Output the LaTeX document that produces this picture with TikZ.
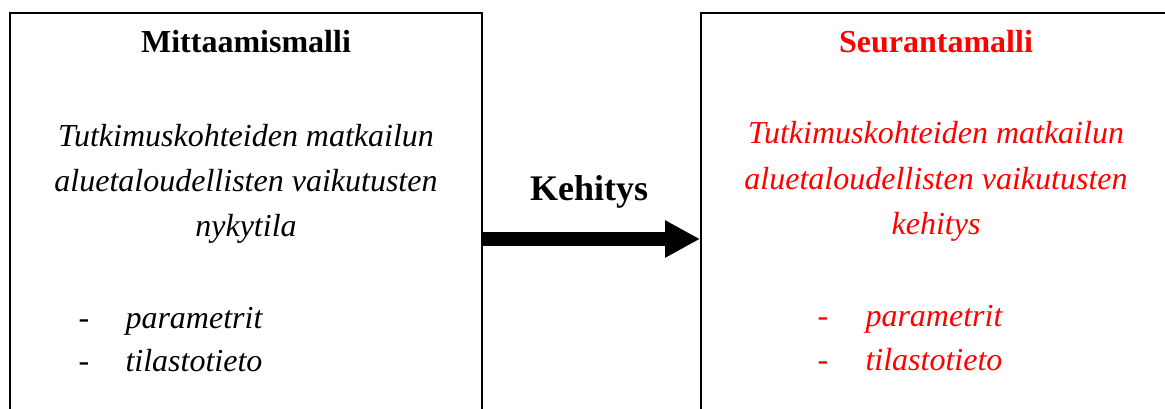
\documentclass[tikz,border=0pt]{standalone}
\usepackage{fontspec}
\setmainfont{Liberation Serif}
\usetikzlibrary{arrows.meta}

\definecolor{seured}{RGB}{255,0,0}

\tikzset{
  modelbox/.style={draw, line width=0.75pt, minimum width=177pt, minimum height=169.5pt, inner sep=0pt},
  boxtitle/.style={font=\bfseries\fontsize{12}{14}\selectfont, anchor=base, inner sep=0pt},
  boxtext/.style={font=\itshape\fontsize{12}{14}\selectfont, anchor=base, inner sep=0pt},
  dashmark/.style={font=\fontsize{12}{14}\selectfont, anchor=base, inner sep=0pt},
  itemtext/.style={font=\itshape\fontsize{12}{14}\selectfont, anchor=base west, inner sep=0pt}
}

\begin{document}
\begin{tikzpicture}[x=0.375pt, y=-0.375pt]
  \useasboundingbox (0,0) rectangle (1165,409);
  \clip (0,0) rectangle (1165,409);

  % boxes
  \node[modelbox] (lbox) at (246,239) {};
  \node[modelbox] (rbox) at (937,239) {};

  % left box
  \node[boxtitle] (ltitle) at (246,53) {Mittaamismalli};
  \node[boxtext] (l1) at (246,147) {Tutkimuskohteiden matkailun};
  \node[boxtext] (l2) at (246,192) {aluetaloudellisten vaikutusten};
  \node[boxtext] (l3) at (246,237) {nykytila};
  \node[dashmark] (ld1) at (84,328) {-};
  \node[itemtext] (li1) at (125,328) {parametrit};
  \node[dashmark] (ld2) at (84,371) {-};
  \node[itemtext] (li2) at (125,371) {tilastotieto};

  % right box
  \begin{scope}[seured]
    \node[boxtitle] (rtitle) at (936,53) {Seurantamalli};
    \node[boxtext] (r1) at (936,144) {Tutkimuskohteiden matkailun};
    \node[boxtext] (r2) at (936,190) {aluetaloudellisten vaikutusten};
    \node[boxtext] (r3) at (936,235) {kehitys};
    \node[dashmark] (rd1) at (823,326) {-};
    \node[itemtext] (ri1) at (865,326) {parametrit};
    \node[dashmark] (rd2) at (823,370) {-};
    \node[itemtext] (ri2) at (865,370) {tilastotieto};
  \end{scope}

  % arrow
  \node[boxtitle, font=\bfseries\fontsize{13.5}{15}\selectfont] (kehitys) at (589,201) {Kehitys};
  \draw[line width=5.25pt, -{Triangle[length=13.1pt, width=13.1pt]}] (lbox.east) -- (rbox.west);
\end{tikzpicture}
\end{document}
